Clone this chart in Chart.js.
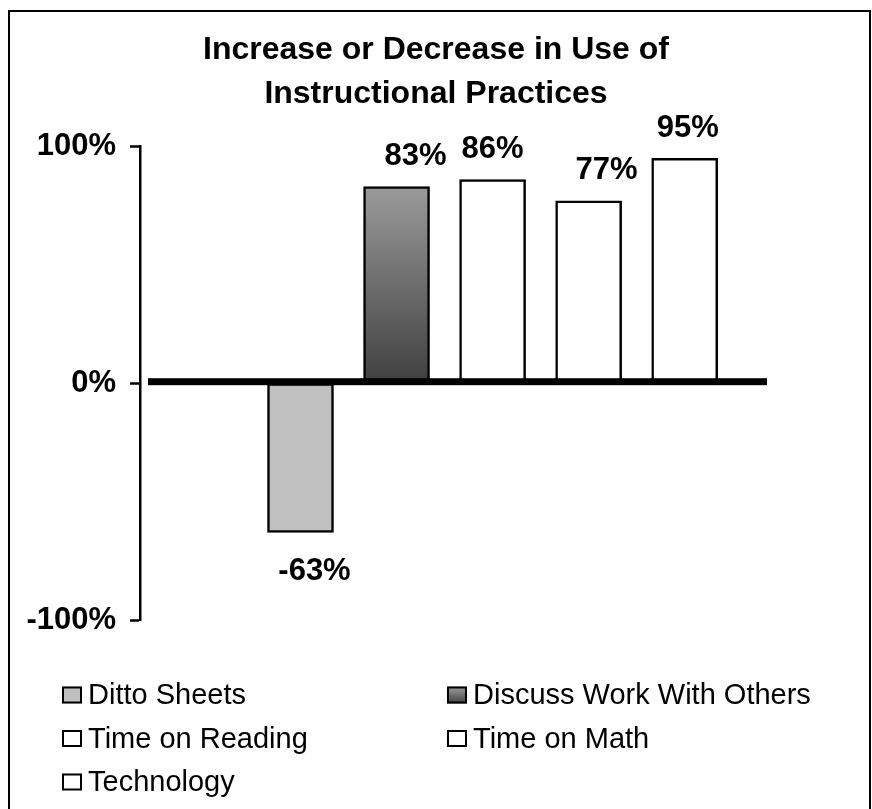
<!DOCTYPE html>
<html>
<head>
<meta charset="utf-8">
<script src="https://cdn.jsdelivr.net/npm/chart.js@4.4.1/dist/chart.umd.min.js"></script>
<style>
  html, body { margin: 0; padding: 0; background: #fff; }
</style>
</head>
<body>
<canvas id="practicesChart" width="872" height="809"></canvas>
<script>
const practices = ['Ditto Sheets', 'Discuss Work With Others', 'Time on Reading', 'Time on Math', 'Technology'];
const changes = [-63, 83, 86, 77, 95];
const slots = [1, 2, 3, 4, 5];
const yTicks = [-100, 0, 100];

// styles
const fills = ['#c0c0c0', 'gradient', '#ffffff', '#ffffff', '#ffffff'];
const labelShift = [14, 19, 0, 18, 3];

Chart.defaults.font.family = "'Liberation Sans', Arial, sans-serif";
Chart.defaults.color = '#000';

const ctx = document.getElementById('practicesChart');

function darkGradient(c2d, top, bottom) {
    const g = c2d.createLinearGradient(0, top, 0, bottom);
    g.addColorStop(0, '#9a9a9a');
    g.addColorStop(1, '#404040');
    return g;
}

function barFill(c) {
    const f = fills[c.dataIndex];
    if (f !== 'gradient') return f;
    const chart = c.chart;
    if (!chart.chartArea) return '#707070';
    const y = chart.scales.y;
    return darkGradient(chart.ctx, y.getPixelForValue(changes[c.dataIndex]), y.getPixelForValue(0));
}

const frame = {
    id: 'frame',
    beforeDraw(chart) {
        const c = chart.ctx;
        c.save();
        c.fillStyle = '#fff';
        c.fillRect(0, 0, chart.width, chart.height);
        c.strokeStyle = '#000';
        c.lineWidth = 2;
        c.strokeRect(9, 11, chart.width - 11, chart.height + 10);
        c.restore();
    }
};

const zeroLine = {
    id: 'zeroLine',
    afterDatasetsDraw(chart) {
        const c = chart.ctx;
        const area = chart.chartArea;
        const y0 = chart.scales.y.getPixelForValue(0);
        c.save();
        c.fillStyle = '#000';
        c.fillRect(area.left + 8, y0 - 5, area.right - area.left - 8, 7);
        c.restore();
    }
};

const valueLabels = {
    id: 'valueLabels',
    afterDatasetsDraw(chart) {
        const c = chart.ctx;
        const meta = chart.getDatasetMeta(0);
        c.save();
        c.font = "bold 31px 'Liberation Sans', Arial, sans-serif";
        c.fillStyle = '#000';
        c.textAlign = 'center';
        c.textBaseline = 'middle';
        meta.data.forEach((bar, i) => {
            const v = changes[i];
            const y = v >= 0 ? bar.y - 30 : bar.y + 39;
            c.fillText(v + '%', bar.x + labelShift[i], y);
        });
        c.restore();
    }
};

const gridLegend = {
    id: 'gridLegend',
    afterDraw(chart) {
        const c = chart.ctx;
        const cols = [62, 447];
        const top = chart.chartArea.bottom + 75;
        c.save();
        c.font = "29px 'Liberation Sans', Arial, sans-serif";
        c.textBaseline = 'middle';
        c.textAlign = 'left';
        practices.forEach((name, i) => {
            const x = cols[i % 2];
            const y = top + Math.floor(i / 2) * 43.5;
            const f = fills[i];
            c.fillStyle = f === 'gradient' ? darkGradient(c, y - 8, y + 9) : f;
            c.fillRect(x, y - 8.5, 20, 17);
            c.strokeStyle = '#000';
            c.lineWidth = 2;
            c.strokeRect(x + 1, y - 7.5, 18, 15);
            c.fillStyle = '#000';
            c.fillText(name, x + 26, y + 1);
        });
        c.restore();
    }
};

new Chart(ctx, {
    type: 'bar',
    data: {
        datasets: [{
            label: 'Change',
            data: slots.map((s, i) => ({ x: s, y: changes[i] })),
            backgroundColor: barFill,
            borderColor: '#000',
            borderWidth: 2.5,
            borderSkipped: false,
            barThickness: 66
        }]
    },
    options: {
        responsive: false,
        animation: false,
        layout: {
            padding: { left: 0, right: 0, top: 0, bottom: 189 }
        },
        scales: {
            x: {
                type: 'linear',
                display: false,
                offset: false,
                min: -0.671,
                max: 5.857
            },
            y: {
                min: -100,
                max: 100,
                afterBuildTicks: scale => { scale.ticks = yTicks.map(v => ({ value: v })); },
                afterFit: scale => { scale.width = 140; },
                ticks: {
                    padding: 14,
                    font: { size: 31, weight: 'bold' },
                    color: '#000',
                    callback: v => v + '%'
                },
                grid: {
                    drawOnChartArea: false,
                    drawTicks: true,
                    tickLength: 10,
                    tickColor: '#000',
                    tickWidth: 2.5
                },
                border: { display: true, color: '#000', width: 2.5 }
            },
            spacer: {
                type: 'linear',
                position: 'right',
                display: true,
                ticks: { display: false },
                grid: { display: false },
                border: { display: false },
                afterFit: scale => { scale.width = 105; }
            }
        },
        plugins: {
            legend: { display: false },
            tooltip: { enabled: false },
            title: {
                display: true,
                text: ['Increase or Decrease in Use of', 'Instructional Practices'],
                color: '#000',
                font: { size: 32, weight: 'bold', lineHeight: 1.35 },
                padding: { top: 29, bottom: 31 }
            }
        }
    },
    plugins: [frame, zeroLine, valueLabels, gridLegend]
});
</script>
</body>
</html>
